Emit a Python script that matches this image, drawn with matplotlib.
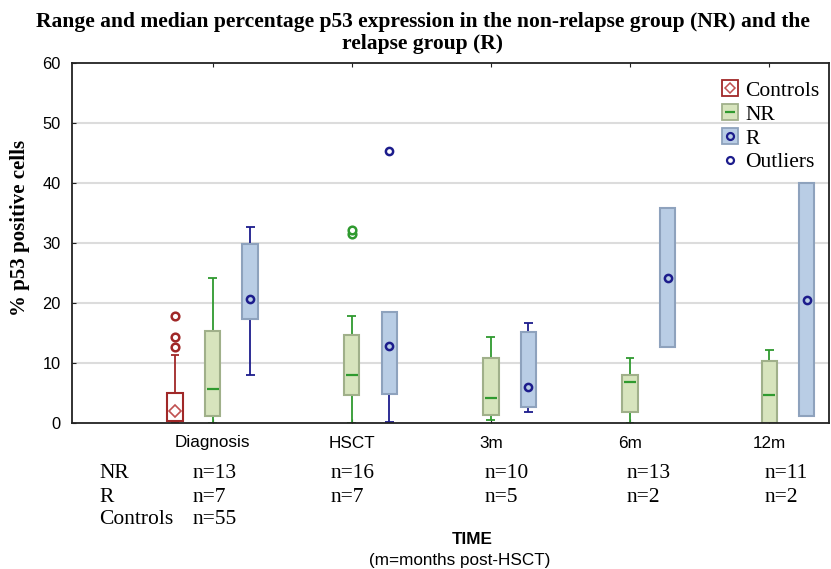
import matplotlib
matplotlib.use("Agg")
import matplotlib.pyplot as plt
from matplotlib.patches import Patch
from matplotlib.lines import Line2D

# ---------------- data ----------------
timepoints = ["Diagnosis", "HSCT", "3m", "6m", "12m"]

# Controls (only at diagnosis)
ctrl_min, ctrl_q1, ctrl_med, ctrl_q3, ctrl_max = 0.0, 0.3, 2.0, 5.0, 11.3
ctrl_outliers = [12.6, 14.3, 17.8]

# Non-relapse group (NR)
nr_min = [0.0, 0.0, 0.5, 0.0, 0.0]
nr_q1 = [1.1, 4.7, 1.4, 1.8, 0.0]
nr_med = [5.7, 8.0, 4.1, 6.8, 4.7]
nr_q3 = [15.4, 14.6, 10.9, 8.0, 10.4]
nr_max = [24.1, 17.9, 14.4, 10.9, 12.1]
nr_outliers = [[], [31.5, 32.1], [], [], []]

# Relapse group (R)
r_min = [8.0, 0.2, 1.8, 12.7, 1.2]
r_q1 = [17.3, 4.9, 2.6, 12.7, 1.2]
r_med = [20.7, 12.8, 6.0, 24.2, 20.5]
r_q3 = [29.9, 18.5, 15.2, 35.9, 40.0]
r_max = [32.7, 18.5, 16.7, 35.9, 40.0]
r_outliers = [[], [45.3], [], [], []]

# sample sizes
nr_n = ["n=13", "n=16", "n=10", "n=13", "n=11"]
r_n = ["n=7", "n=7", "n=5", "n=2", "n=2"]
ctrl_n = ["n=55"]

title = ("Range and median percentage p53 expression in the non-relapse group (NR) and the\n"
         "relapse group (R)")

# ---------------- style ----------------
W, H = 831, 569
SERIF = ["Liberation Serif", "DejaVu Serif"]
SANS = ["Liberation Sans", "DejaVu Sans"]

RED = "#a02828"
RED_L = "#c05050"
GREEN = "#2f9a2f"
GREEN_FILL = "#d7e4bd"
GREEN_EDGE = "#a0b08a"
NAVY = "#1c1c8c"
BLUE_FILL = "#b9cde5"
BLUE_EDGE = "#8ea2bd"

fig = plt.figure(figsize=(W / 100, H / 100), dpi=100)
ax = fig.add_axes([72 / W, 1 - 423 / H, (829 - 72) / W, (423 - 63) / H])

boxw = 0.11
capw = 0.032
off = 0.27


def draw_box(pos, lo, q1, med, q3, hi, fill, edge, wcol):
    if lo < q1:
        ax.vlines(pos, lo, q1, color=wcol, lw=1.3, zorder=2)
        ax.hlines(lo, pos - capw, pos + capw, color=wcol, lw=1.3, zorder=2)
    if hi > q3:
        ax.vlines(pos, q3, hi, color=wcol, lw=1.3, zorder=2)
        ax.hlines(hi, pos - capw, pos + capw, color=wcol, lw=1.3, zorder=2)
    ax.bar(pos, q3 - q1, bottom=q1, width=boxw, color=fill, edgecolor=edge,
           linewidth=1.5, zorder=3)


# Controls
cpos = 0 - off
draw_box(cpos, ctrl_min, ctrl_q1, ctrl_med, ctrl_q3, ctrl_max, "white", RED, RED)
ax.plot([cpos], [ctrl_med], marker="D", ms=6, mfc="white", mec=RED_L, mew=1.2,
        ls="none", zorder=4)
ax.plot([cpos] * len(ctrl_outliers), ctrl_outliers, marker="o", ms=5.5, mfc="white",
        mec=RED, mew=1.8, ls="none", zorder=4)

for i in range(len(timepoints)):
    # NR
    draw_box(i, nr_min[i], nr_q1[i], nr_med[i], nr_q3[i], nr_max[i],
             GREEN_FILL, GREEN_EDGE, GREEN)
    ax.plot([i], [nr_med[i]], marker="_", ms=8, mec=GREEN, mew=1.6, ls="none", zorder=4)
    if nr_outliers[i]:
        ax.plot([i] * len(nr_outliers[i]), nr_outliers[i], marker="o", ms=5.5,
                mfc="white", mec=GREEN, mew=1.8, ls="none", zorder=4)
    # R
    p = i + off
    draw_box(p, r_min[i], r_q1[i], r_med[i], r_q3[i], r_max[i],
             BLUE_FILL, BLUE_EDGE, NAVY)
    ax.plot([p], [r_med[i]], marker="o", ms=5.2, mfc="none", mec=NAVY, mew=1.8,
            ls="none", zorder=4)
    if r_outliers[i]:
        ax.plot([p] * len(r_outliers[i]), r_outliers[i], marker="o", ms=5.2,
                mfc="white", mec=NAVY, mew=1.8, ls="none", zorder=4)

ax.set_xlim(-1.01, 4.43)
ax.set_ylim(0, 60)
ax.set_yticks(range(0, 61, 10))
ax.set_xticks(range(len(timepoints)))
ax.set_xticklabels(timepoints, fontfamily=SANS, fontsize=12.3)
for lab in ax.get_yticklabels():
    lab.set_fontfamily(SANS)
    lab.set_fontsize(11.8)
ax.tick_params(axis="x", direction="in", length=3, top=True, pad=9, colors="#222222",
               labelcolor="black")
ax.tick_params(axis="y", direction="in", length=3, pad=8, colors="#222222",
               labelcolor="black")
for y in range(10, 60, 10):
    ax.axhline(y, color="#dcdcdc", lw=1.5, zorder=1)
for s in ax.spines.values():
    s.set_color("#222222")
    s.set_linewidth(1.3)
    s.set_zorder(5)

ax.set_ylabel("% p53 positive cells", fontfamily=SERIF, fontweight="bold",
              fontsize=15)
ax.yaxis.set_label_coords(-(72 - 30) / (829 - 72), (423 - 228) / (423 - 63))

fig.text(423 / W, 1 - 33 / H, title, ha="center", va="center", fontfamily=SERIF,
         fontweight="bold", fontsize=15.5, linespacing=1.12)

# legend
handles = [
    (Patch(fc="white", ec=RED, lw=1.3),
     Line2D([], [], marker="D", ms=5, mfc="white", mec=RED_L, mew=1.1, ls="none")),
    (Patch(fc=GREEN_FILL, ec=GREEN_EDGE, lw=1.3),
     Line2D([], [], marker="_", ms=7, mec=GREEN, mew=1.6, ls="none")),
    (Patch(fc=BLUE_FILL, ec=BLUE_EDGE, lw=1.3),
     Line2D([], [], marker="o", ms=5, mfc="none", mec=NAVY, mew=1.6, ls="none")),
    Line2D([], [], marker="o", ms=5, mfc="none", mec=NAVY, mew=1.6, ls="none"),
]
labels = ["Controls", "NR", "R", "Outliers"]
leg = fig.legend(handles, labels, loc="upper left",
                 bbox_to_anchor=(722 / W, 1 - 80.5 / H), frameon=False,
                 prop={"family": SERIF, "size": 15.5}, handlelength=0.72,
                 handleheight=0.75, handletextpad=0.36, labelspacing=0.16,
                 borderpad=0, borderaxespad=0)

# table of sample sizes
count_x = [193, 331, 485, 627, 765]
row_label_x = 99
rows = [("NR", nr_n, 477.5), ("R", r_n, 502), ("Controls", ctrl_n, 524)]
for name, vals, yb in rows:
    fig.text(row_label_x / W, 1 - yb / H, name, ha="left", va="baseline",
             fontfamily=SERIF, fontsize=15.5)
    for xx, v in zip(count_x, vals):
        fig.text(xx / W, 1 - yb / H, v, ha="left", va="baseline",
                 fontfamily=SERIF, fontsize=15.5)

fig.text(472 / W, 1 - 540 / H, "TIME", ha="center", va="center", fontfamily=SANS,
         fontweight="bold", fontsize=12.3)
fig.text(460 / W, 1 - 561 / H, "(m=months post-HSCT)", ha="center", va="center",
         fontfamily=SANS, fontsize=12.3)

fig.savefig("out.png", dpi=100)
